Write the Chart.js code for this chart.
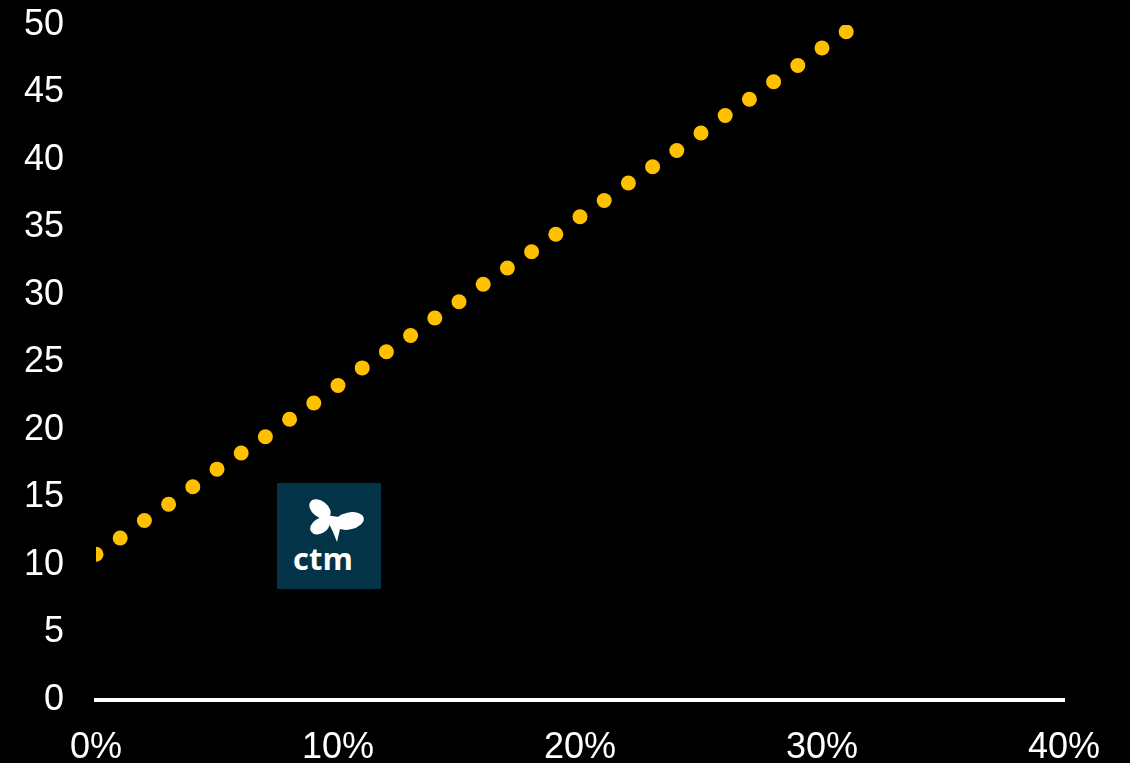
<!DOCTYPE html>
<html>
<head>
<meta charset="utf-8">
<script src="https://cdn.jsdelivr.net/npm/chart.js@4"></script>
<style>
  html, body { margin: 0; padding: 0; background: #000; }
  .wrap { position: relative; width: 1130px; height: 763px; }
  .logo {
    position: absolute; left: 277px; top: 483px; width: 104px; height: 106px;
    background: #033347; color: #fff;
    font-family: "Open Sans", "Liberation Sans", sans-serif; font-weight: 700;
  }
  .logo svg { position: absolute; left: 32px; top: 16px; }
  .logo span { position: absolute; left: 16px; width: 60px; text-align: center; top: 60px; font-size: 31px; line-height: 30px; }
</style>
</head>
<body>
<div class="wrap">
  <canvas id="chart" width="1130" height="763"></canvas>
  <div class="logo">
    <svg width="58" height="48" viewBox="0 0 58 48">
      <g fill="#fff">
        <ellipse cx="11" cy="10" rx="12" ry="8" transform="rotate(38 11 10)"/>
        <ellipse cx="11" cy="27" rx="10.5" ry="7.5" transform="rotate(-32 11 27)"/>
        <ellipse cx="40" cy="22" rx="15" ry="8.5" transform="rotate(-12 40 22)"/>
        <path d="M16 16 L30 18 L31 30 L28 43 L24 33 Z"/>
      </g>
    </svg>
    <span>ctm</span>
  </div>
</div>
<script>
// values
const xValues = [0, 1, 2, 3, 4, 5, 6, 7, 8, 9, 10, 11, 12, 13, 14, 15,
                 16, 17, 18, 19, 20, 21, 22, 23, 24, 25, 26, 27, 28, 29, 30, 31];
const yValues = [10.8, 12.0, 13.3, 14.5, 15.8, 17.1, 18.3, 19.5, 20.8, 22.0, 23.3, 24.6, 25.8, 27.0, 28.3, 29.5,
                 30.8, 32.0, 33.2, 34.5, 35.8, 37.0, 38.3, 39.5, 40.7, 42.0, 43.3, 44.5, 45.8, 47.0, 48.3, 49.5];
const xTicks = [0, 10, 20, 30, 40];
const yTicks = [0, 5, 10, 15, 20, 25, 30, 35, 40, 45, 50];

const points = xValues.map((x, i) => ({ x: x, y: yValues[i] }));
const font = { family: '"Liberation Sans", Arial, sans-serif', size: 36 };

new Chart(document.getElementById('chart'), {
    type: 'scatter',
    data: {
        datasets: [{
            data: points,
            backgroundColor: '#FFC000',
            borderWidth: 0,
            pointRadius: 7.5,
            pointHoverRadius: 7.5,
            clip: 0
        }]
    },
    options: {
        responsive: false,
        animation: false,
        events: [],
        layout: { padding: { top: 25, right: 66, left: 0, bottom: 0 } },
        plugins: { legend: { display: false }, tooltip: { enabled: false } },
        scales: {
            x: {
                type: 'linear',
                min: xTicks[0],
                max: xTicks[xTicks.length - 1],
                afterBuildTicks: (s) => { s.ticks = xTicks.map(v => ({ value: v })); },
                afterFit: (s) => { s.height = 63; },
                grid: { display: false, drawTicks: false },
                border: { display: true, color: '#fff', width: 4 },
                ticks: { color: '#fff', font: font, padding: 26, maxRotation: 0, callback: v => v + '%' }
            },
            y: {
                min: yTicks[0],
                max: yTicks[yTicks.length - 1],
                afterBuildTicks: (s) => { s.ticks = yTicks.map(v => ({ value: v })); },
                afterFit: (s) => { s.width = 96; s.paddingTop = 0; s.paddingBottom = 0; },
                grid: { display: false, drawTicks: false },
                border: { display: false },
                ticks: { color: '#fff', font: font, padding: 32 }
            }
        }
    }
});
</script>
</body>
</html>
